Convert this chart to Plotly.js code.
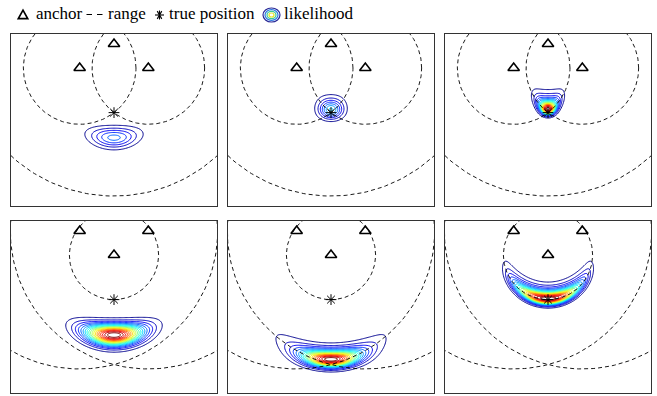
<!DOCTYPE html>
<html><head><meta charset="utf-8">
<script src="https://cdn.plot.ly/plotly-3.0.1.min.js"></script>
<style>html,body{margin:0;padding:0;background:#fff}#chart{width:657px;height:396px}</style>
</head><body><div id="chart"></div>
<script>
// ---------------- data ----------------
// Scenario of the top row: one anchor with an over-long (NLOS) range
const anchorX_row1 = [0, -1, 1];
const anchorY_row1 = [0, -0.7, -0.7];
const range_row1   = [4.43, 1.64, 1.64];
// Scenario of the bottom row: two anchors with over-long ranges
const anchorX_row2 = [-1, 1, 0];
const anchorY_row2 = [0, 0, -0.7];
const range_row2   = [4.02, 4.02, 1.3];
// true position (same in both rows)
const trueX = [0];
const trueY = [-2];
// likelihood models, one per column
const columnModel = ['gaussian', 'robust', 'biased'];
const gaussSigma_row1 = [0.37, 0.3, 0.3];
const gaussSigma_row2 = [0.37, 0.37, 0.3];
const robustSigma = 0.18, robustRate = 6, robustOutWeight = 0.05, robustOutMean = 0, robustOutSigma = 1.2;
const biasSigma = 0.1, biasRate = 2.8;
// peak likelihood level reached in each panel (row-major)
const peakLevel = [0.27, 0.36, 1, 1, 1, 1];
// contour levels
const levelStart = 0.05, levelEnd = 0.95, levelStep = 0.05;

// ---------------- likelihood helpers ----------------
function logErfc(z){
  const az = Math.abs(z), t = 1/(1+0.5*az);
  const p = -az*az - 1.26551223 + t*(1.00002368 + t*(0.37409196 + t*(0.09678418 + t*(-0.18628806 + t*(0.27886807 + t*(-1.13520398 + t*(1.48851587 + t*(-0.82215223 + t*0.17087277))))))));
  if (z >= 0) return Math.log(t) + p;
  return Math.log(2 - t*Math.exp(p));
}
function logEMG(x, lam, s){ // x = measured - true distance
  return Math.log(lam/2) + (lam/2)*(lam*s*s - 2*x) + logErfc((lam*s*s - x)/(Math.SQRT2*s));
}
function logN(x, m, s){ return -0.5*((x-m)/s)*((x-m)/s) - Math.log(s); }
function lse(a, b){ const m = Math.max(a,b); return m + Math.log(Math.exp(a-m)+Math.exp(b-m)); }

function termLog(model, x, i, row){
  if (model === 'gaussian'){
    const s = (row === 0 ? gaussSigma_row1 : gaussSigma_row2)[i];
    return -0.5*(x/s)*(x/s);
  }
  if (model === 'robust'){
    return lse(Math.log(1-robustOutWeight) + logEMG(x, robustRate, robustSigma),
               Math.log(robustOutWeight) + logN(x, robustOutMean, robustOutSigma));
  }
  return logEMG(x, biasRate, biasSigma);
}

const xr = [-3, 3], yr = [-4.72, 0.29];
const NX = 241, NY = 201;
const gx = [], gy = [];
for (let i=0;i<NX;i++) gx.push(xr[0] + (xr[1]-xr[0])*i/(NX-1));
for (let j=0;j<NY;j++) gy.push(yr[0] + (yr[1]-yr[0])*j/(NY-1));

function likelihood(row, col, peak){
  const ax = row===0?anchorX_row1:anchorX_row2, ay = row===0?anchorY_row1:anchorY_row2, rr = row===0?range_row1:range_row2;
  const model = columnModel[col];
  const z = []; let mx = -Infinity;
  for (let j=0;j<NY;j++){
    const rowz = [];
    for (let i=0;i<NX;i++){
      let s = 0;
      for (let k=0;k<ax.length;k++){
        const d = Math.hypot(gx[i]-ax[k], gy[j]-ay[k]);
        s += termLog(model, rr[k]-d, k, row);
      }
      rowz.push(s); if (s > mx) mx = s;
    }
    z.push(rowz);
  }
  return z.map(r => r.map(v => peak*Math.exp(v-mx)));
}

function circles(ax, ay, rr){
  const cx = [], cy = [];
  for (let k=0;k<ax.length;k++){
    for (let a=0;a<=360;a+=1.5){
      const t = a*Math.PI/180;
      cx.push(ax[k] + rr[k]*Math.cos(t)); cy.push(ay[k] + rr[k]*Math.sin(t));
    }
    cx.push(null); cy.push(null);
  }
  return {cx, cy};
}

const jet = [[0,'rgb(0,0,143)'],[0.125,'rgb(0,0,255)'],[0.375,'rgb(0,255,255)'],[0.625,'rgb(255,255,0)'],[0.875,'rgb(255,0,0)'],[1,'rgb(128,0,0)']];

// ---------------- layout geometry ----------------
const W = 657, H = 396;
const colPx = [[11,217],[228,434],[445,651]];
const rowPx = [[34,206],[221,393]];

const traces = [];
const layout = {width: W, height: H, margin:{l:0,r:0,t:0,b:0}, showlegend:false,
  paper_bgcolor:'#fff', plot_bgcolor:'#fff', annotations:[], shapes:[]};

for (let p=0;p<6;p++){
  const row = Math.floor(p/3), col = p%3;
  const sfx = p===0 ? '' : String(p+1);
  const xa = 'x'+sfx, ya = 'y'+sfx;
  const ax = row===0?anchorX_row1:anchorX_row2, ay = row===0?anchorY_row1:anchorY_row2, rr = row===0?range_row1:range_row2;
  traces.push({type:'contour', x:gx, y:gy, z:likelihood(row,col,peakLevel[p]), xaxis:xa, yaxis:ya,
    zmin:0, zmax:1, zauto:false, colorscale:jet, showscale:false, hoverinfo:'skip',
    contours:{coloring:'lines', start:levelStart, end:levelEnd, size:levelStep}, line:{width:1, smoothing:1}});
  const c = circles(ax, ay, rr);
  traces.push({type:'scatter', mode:'lines', x:c.cx, y:c.cy, xaxis:xa, yaxis:ya, hoverinfo:'skip',
    line:{color:'#000', width:0.9, dash:'4px,3px'}});
  traces.push({type:'scatter', mode:'markers', x:ax, y:ay, xaxis:xa, yaxis:ya, hoverinfo:'skip', cliponaxis:false,
    marker:{symbol:'triangle-up-open', size:10, color:'#000', line:{width:1.6, color:'#000'}}});
  traces.push({type:'scatter', mode:'markers', x:trueX, y:trueY, xaxis:xa, yaxis:ya, hoverinfo:'skip',
    marker:{symbol:'asterisk-open', size:9, color:'#000', line:{width:1, color:'#000'}}});
  const axBase = {showticklabels:false, ticks:'', showgrid:false, zeroline:false, showline:true, mirror:true,
    linecolor:'#333', linewidth:1, fixedrange:true};
  layout['xaxis'+sfx] = Object.assign({}, axBase, {domain:[colPx[col][0]/W, colPx[col][1]/W], range:xr, anchor:ya});
  layout['yaxis'+sfx] = Object.assign({}, axBase, {domain:[1-rowPx[row][1]/H, 1-rowPx[row][0]/H], range:yr, anchor:xa});
}

// ---------------- legend (drawn in figure pixels) ----------------
const px = (x) => x/W, py = (y) => 1 - y/H;
const font = {family:"'Liberation Serif', 'Times New Roman', Times, serif", size:17, color:'#000'};
[['anchor',34],['range',106],['true position',167],['likelihood',282]].forEach(([t,x])=>{
  layout.annotations.push({text:t, xref:'paper', yref:'paper', x:px(x), y:py(13.5), xanchor:'left', yanchor:'middle', showarrow:false, font});
});
const pth = (pts) => 'M' + pts.map(q => px(q[0])+','+py(q[1])).join('L') + 'Z';
layout.shapes.push({type:'path', xref:'paper', yref:'paper', path:pth([[18.3,18.6],[27.7,18.6],[23,10.2]]), line:{color:'#000', width:1.7}});
[[86.5,92],[97,102.5]].forEach(([a,b])=>layout.shapes.push({type:'line', xref:'paper', yref:'paper', x0:px(a), x1:px(b), y0:py(14.5), y1:py(14.5), line:{color:'#000', width:1}}));
[[0,4.5],[60,4.5],[120,4.5],[90,4.5]].forEach(([ang,r])=>{
  const t = ang*Math.PI/180;
  layout.shapes.push({type:'line', xref:'paper', yref:'paper', x0:px(159.5-r*Math.cos(t)), x1:px(159.5+r*Math.cos(t)), y0:py(15-r*Math.sin(t)), y1:py(15+r*Math.sin(t)), line:{color:'#000', width:1.1}});
});
[[8.5,7,'rgb(40,40,150)'],[6.5,5.3,'rgb(40,120,230)'],[4.5,3.6,'rgb(60,200,150)'],[2.5,2,'rgb(230,230,40)']].forEach(([rx,ry,col])=>{
  layout.shapes.push({type:'circle', xref:'paper', yref:'paper', x0:px(271.5-rx), x1:px(271.5+rx), y0:py(15+ry), y1:py(15-ry), line:{color:col, width:1.2}});
});

Plotly.newPlot('chart', traces, layout, {staticPlot:true, displayModeBar:false});
</script>
</body></html>
